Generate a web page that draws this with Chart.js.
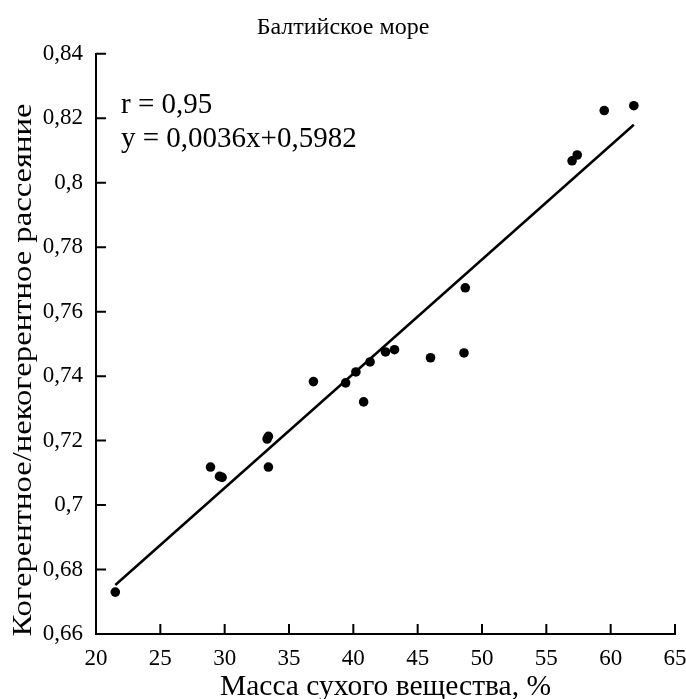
<!DOCTYPE html>
<html>
<head>
<meta charset="utf-8">
<script src="https://cdn.jsdelivr.net/npm/chart.js@4"></script>
<style>
  html, body { margin: 0; padding: 0; background: #fff; }
  #wrap { width: 686px; height: 699px; }
</style>
</head>
<body>
<div id="wrap"><canvas id="chartOutput" width="686" height="699"></canvas></div>
<script>
// data
var massX = [21.5, 28.9, 29.6, 29.8, 33.3, 33.4, 33.4, 36.9, 39.4, 40.2, 40.8, 41.3, 42.5, 43.2, 46.0, 48.6, 48.7, 57.0, 57.4, 59.5, 61.8];
var ratioY = [0.673, 0.7118, 0.7089, 0.7086, 0.7205, 0.7213, 0.7118, 0.7383, 0.7379, 0.7413, 0.732, 0.7444, 0.7475, 0.7482, 0.7457, 0.7472, 0.7674, 0.8068, 0.8086, 0.8224, 0.8239];
var fitX = [21.5, 61.8];
var fitY = [0.6752, 0.818];
var xTicks = [20, 25, 30, 35, 40, 45, 50, 55, 60, 65];
var yTicks = [0.66, 0.68, 0.70, 0.72, 0.74, 0.76, 0.78, 0.80, 0.82, 0.84];
var statLines = ["r = 0,95", "y = 0,0036x+0,5982"];
var yTitle = "Когерентное/некогерентное рассеяние";

var serif = "'Liberation Serif', 'Times New Roman', serif";

function toPoints(xs, ys) {
    var pts = [];
    for (var i = 0; i < xs.length; i++) {
        pts.push({x: xs[i], y: ys[i]});
    }
    return pts;
}

// inward tick marks, y title and the r / equation text
var extrasPlugin = {
    id: "extras",
    afterDraw: function(chart) {
        var ctx = chart.ctx;
        var xs = chart.scales.x, ys = chart.scales.y;
        var area = chart.chartArea;
        ctx.save();
        ctx.strokeStyle = "#000";
        ctx.lineWidth = 2;
        ctx.beginPath();
        xTicks.forEach(function(v) {
            var px = xs.getPixelForValue(v);
            ctx.moveTo(px, area.bottom);
            ctx.lineTo(px, area.bottom - 10);
        });
        yTicks.forEach(function(v) {
            var py = ys.getPixelForValue(v);
            ctx.moveTo(area.left, py);
            ctx.lineTo(area.left + 10, py);
        });
        ctx.stroke();

        ctx.fillStyle = "#000";
        ctx.font = "29px " + serif;
        ctx.textAlign = "left";
        ctx.textBaseline = "alphabetic";
        ctx.fillText(statLines[0], area.left + 25, 113);
        ctx.fillText(statLines[1], area.left + 25, 147);

        // y axis title: the original is a bit stretched and sits below the middle
        ctx.translate(31, 370);
        ctx.rotate(-Math.PI / 2);
        ctx.scale(1.167, 1);
        ctx.textAlign = "center";
        ctx.font = "28px " + serif;
        ctx.fillText(yTitle, 0, 0);
        ctx.restore();
    }
};

var ctx = document.getElementById("chartOutput");
var myChart = new Chart(ctx, {
    type: "scatter",
    data: {
        datasets: [{
            label: "points",
            data: toPoints(massX, ratioY),
            backgroundColor: "#000",
            borderColor: "#000",
            pointRadius: 4.8,
            pointBorderWidth: 0
        }, {
            label: "fit",
            type: "line",
            data: toPoints(fitX, fitY),
            borderColor: "#000",
            borderWidth: 2.5,
            pointRadius: 0,
            fill: false
        }]
    },
    options: {
        responsive: false,
        animation: false,
        layout: { padding: 0 },
        plugins: {
            legend: { display: false },
            tooltip: { enabled: false },
            title: {
                display: true,
                text: "Балтийское море",
                color: "#000",
                font: { family: serif, size: 24, weight: "normal", lineHeight: 1.2 },
                padding: { top: 13, bottom: 12 }
            }
        },
        scales: {
            x: {
                type: "linear",
                min: 20,
                max: 65,
                afterFit: function(scale) {
                    scale.height = 65;
                    scale.paddingRight = 11;
                    scale.paddingLeft = 0;
                },
                afterBuildTicks: function(scale) {
                    scale.ticks = xTicks.map(function(v) { return {value: v}; });
                },
                border: { color: "#000", width: 2 },
                grid: { display: false, drawTicks: false },
                ticks: {
                    color: "#000",
                    padding: 11,
                    font: { family: serif, size: 23 }
                },
                title: {
                    display: true,
                    text: "Масса сухого вещества, %",
                    color: "#000",
                    padding: 0,
                    font: { family: serif, size: 29.5, lineHeight: 0.8 }
                }
            },
            y: {
                type: "linear",
                min: 0.66,
                max: 0.84,
                afterFit: function(scale) { scale.width = 96; },
                afterBuildTicks: function(scale) {
                    scale.ticks = yTicks.map(function(v) { return {value: v}; });
                },
                border: { color: "#000", width: 2 },
                grid: { display: false, drawTicks: false },
                ticks: {
                    color: "#000",
                    padding: 13,
                    font: { family: serif, size: 23 },
                    callback: function(value) {
                        return Number(value.toFixed(2)).toString().replace(".", ",");
                    }
                }
            }
        }
    },
    plugins: [extrasPlugin]
});
</script>
</body>
</html>
